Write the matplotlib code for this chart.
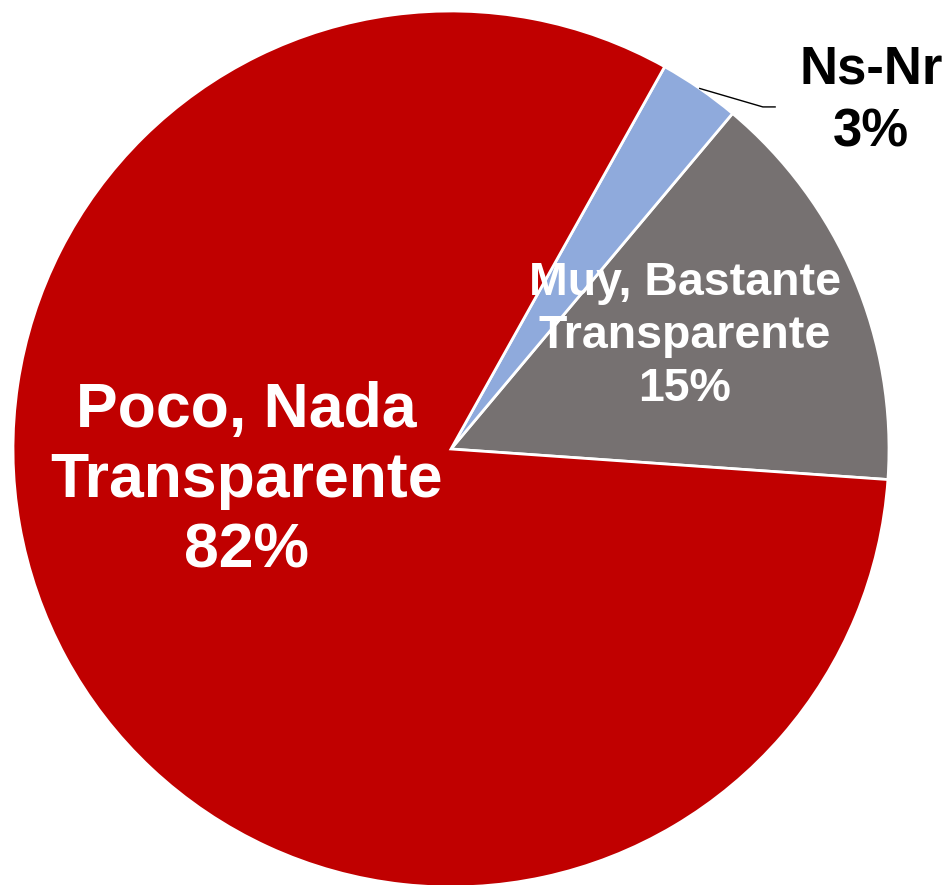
import matplotlib.pyplot as plt
import numpy as np

labels = ["Muy, Bastante\nTransparente", "Ns-Nr", "Poco, Nada\nTransparente"]
values = [15, 3, 82]
colors = ["#767171", "#8FAADC", "#C00000"]
text_colors = ["white", "black", "white"]

plt.rcParams['font.family'] = ['Liberation Sans', 'DejaVu Sans']

fig = plt.figure(figsize=(9.47, 8.85), dpi=100)
ax = fig.add_axes([13/947, -2/885, 876/947, 876/885])
wedges, _ = ax.pie(values, colors=colors, startangle=-4, counterclock=True,
                   wedgeprops=dict(edgecolor="white", linewidth=2))
ax.set_xlim(-1, 1)
ax.set_ylim(-1, 1)
ax.set_aspect('equal')
ax.axis('off')

# label positions
pos = [(0.534, 0.258), (0.959, 0.795), (-0.468, -0.072)]
sizes = [33.5, 38, 45]
spacing = [1.27, 1.32, 1.25]
for i in range(len(values)):
    ax.text(pos[i][0], pos[i][1], f"{labels[i]}\n{values[i]}%", ha='center', va='center',
            color=text_colors[i], fontsize=sizes[i], fontweight='bold',
            linespacing=spacing[i], clip_on=False)

# leader line for small slice
w = wedges[1]
mid = np.deg2rad((w.theta1 + w.theta2) / 2)
x0, y0 = np.cos(mid), np.sin(mid)
ax.plot([x0, 0.712, 0.740], [y0, 0.781, 0.781], color='black', linewidth=1, clip_on=False)

fig.savefig("out.png", dpi=100)
